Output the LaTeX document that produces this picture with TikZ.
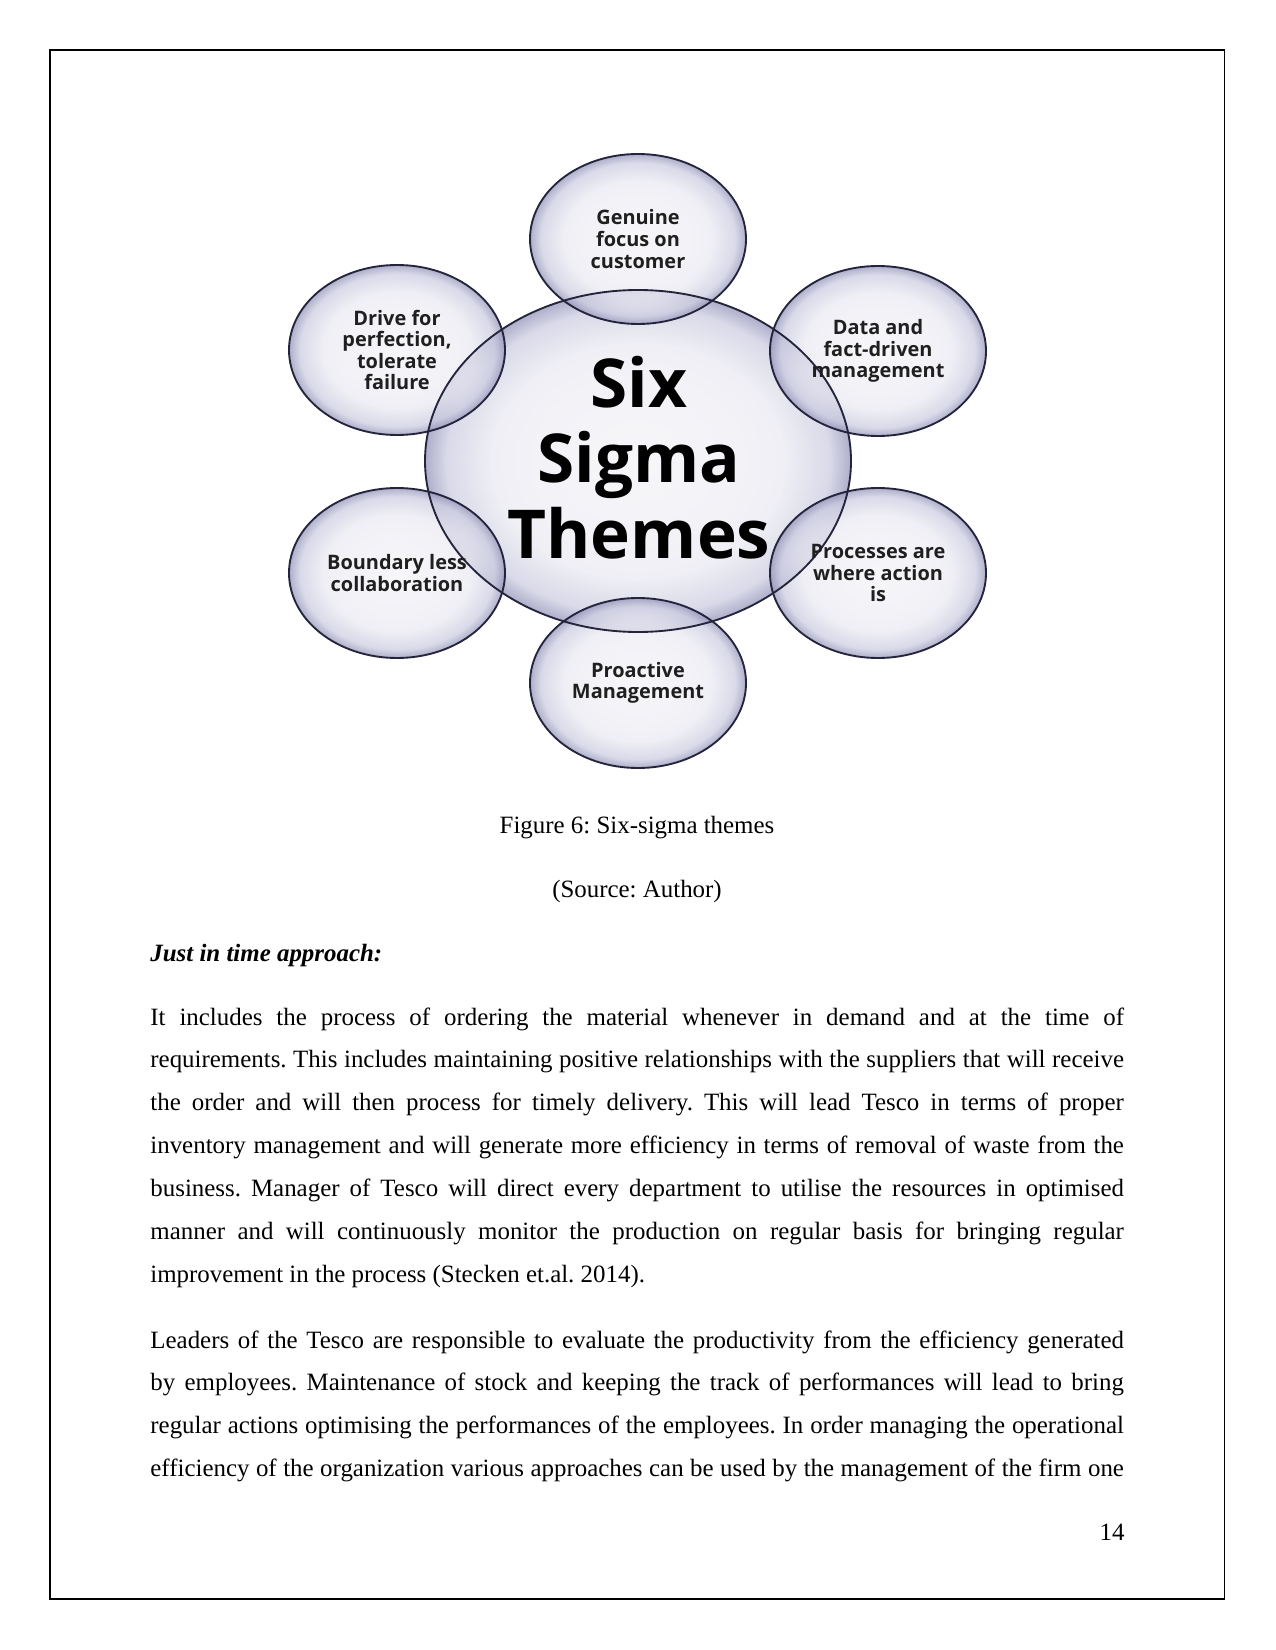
\documentclass[tikz,border=0pt]{standalone}
\usepackage{fontspec}
\setmainfont{Liberation Serif}
\newfontfamily\bubblefont{Open Sans}
\usetikzlibrary{positioning}

\definecolor{bubbleIn}{RGB}{244,244,248}
\definecolor{bubbleMid}{RGB}{234,234,242}
\definecolor{bubbleRim}{RGB}{204,204,225}
\definecolor{bubbleEdge}{RGB}{146,146,184}
\definecolor{bubbleLine}{RGB}{36,36,60}

\pgfdeclareradialshading{bubble}{\pgfpoint{0bp}{0bp}}{%
  color(0bp)=(bubbleIn); color(17bp)=(bubbleMid); color(22.5bp)=(bubbleRim);
  color(25bp)=(bubbleEdge); color(50bp)=(bubbleEdge)}

\tikzset{
  bubblefill/.style={shading=bubble, fill opacity=0.74},
  bubbleline/.style={draw=bubbleLine, line width=0.9pt},
  themelabel/.style={font=\bubblefont\bfseries\fontsize{9.6}{10.4}\selectfont,
    align=center, text=black!88, inner sep=0pt},
  hublabel/.style={font=\bubblefont\bfseries\fontsize{32.5}{36}\selectfont,
    inner sep=0pt, anchor=base},
  bodytext/.style={font=\fontsize{12}{20.7}\selectfont, text width=6.49in,
    align=justify, inner sep=0pt, anchor=base west},
  plaintext/.style={font=\fontsize{12}{14}\selectfont, inner sep=0pt}
}

\begin{document}
\frenchspacing
\begin{tikzpicture}[x=0.4818pt, y=-0.4818pt]
  % page
  \useasboundingbox (0,0) rectangle (1275,1650);
  \draw[line width=0.6pt] (50,50) rectangle (1224.5,1599);

  % bubble centres
  \coordinate (hub) at (638,461);
  \coordinate (tp)  at (638,239);
  \coordinate (ur)  at (878,351);
  \coordinate (lr)  at (878,573);
  \coordinate (bt)  at (638,683);
  \coordinate (ll)  at (397,573);
  \coordinate (ul)  at (397,350);

  % bubbles
  \shade[bubblefill] (hub) ellipse [x radius=213, y radius=171];
  \foreach \b in {tp,ur,lr,bt,ll,ul}
    \shade[bubblefill] (\b) ellipse [x radius=108, y radius=85];
  \draw[bubbleline] (hub) ellipse [x radius=213, y radius=171];
  \foreach \b in {tp,ur,lr,bt,ll,ul}
    \draw[bubbleline] (\b) ellipse [x radius=108, y radius=85];

  % labels
  \node[hublabel] (six)    at (639,408) {Six};
  \node[hublabel] (sigma)  at (639,483) {Sigma};
  \node[hublabel] (themes) at (639,558) {Themes};
  \node[themelabel] (focus)    at (tp) {Genuine\\focus on\\customer};
  \node[themelabel] (data)     at (ur) {Data and\\fact-driven\\management};
  \node[themelabel] (process)  at (lr) {Processes are\\where action\\is};
  \node[themelabel] (proact)   at (bt) {Proactive\\Management};
  \node[themelabel] (boundary) at (ll) {Boundary less\\collaboration};
  \node[themelabel] (drive)    at (ul) {Drive for\\perfection,\\tolerate\\failure};

  % caption and text
  \node[plaintext, anchor=base] (caption) at (637,833) {Figure 6: Six-sigma themes};
  \node[plaintext, anchor=base] (source) at (637,897) {(Source: Author)};
  \node[plaintext, anchor=base west, font=\fontsize{12}{14}\selectfont\bfseries\itshape]
    (jit) at (150,961) {Just in time approach:};
  \node[bodytext] (para1) at (150,1025) {\hyphenpenalty=10000
    It includes the process of ordering the material whenever in demand and at the time of\linebreak
    requirements. This includes maintaining positive relationships with the suppliers that will receive\linebreak
    the order and will then process for timely delivery. This will lead Tesco in terms of proper\linebreak
    inventory management and will generate more efficiency in terms of removal of waste from the\linebreak
    business. Manager of Tesco will direct every department to utilise the resources in optimised\linebreak
    manner and will continuously monitor the production on regular basis for bringing regular\linebreak
    improvement in the process (Stecken et.al. 2014).};
  \node[bodytext] (para2) at (150,1348) {\hyphenpenalty=10000
    Leaders of the Tesco are responsible to evaluate the productivity from the efficiency generated\linebreak
    by employees. Maintenance of stock and keeping the track of performances will lead to bring\linebreak
    regular actions optimising the performances of the employees. In order managing the operational\linebreak
    efficiency of the organization various approaches can be used by the management of the firm one\parfillskip=0pt\par};
  \node[plaintext, anchor=base east] (pagenum) at (1125,1540) {14};
\end{tikzpicture}
\end{document}
